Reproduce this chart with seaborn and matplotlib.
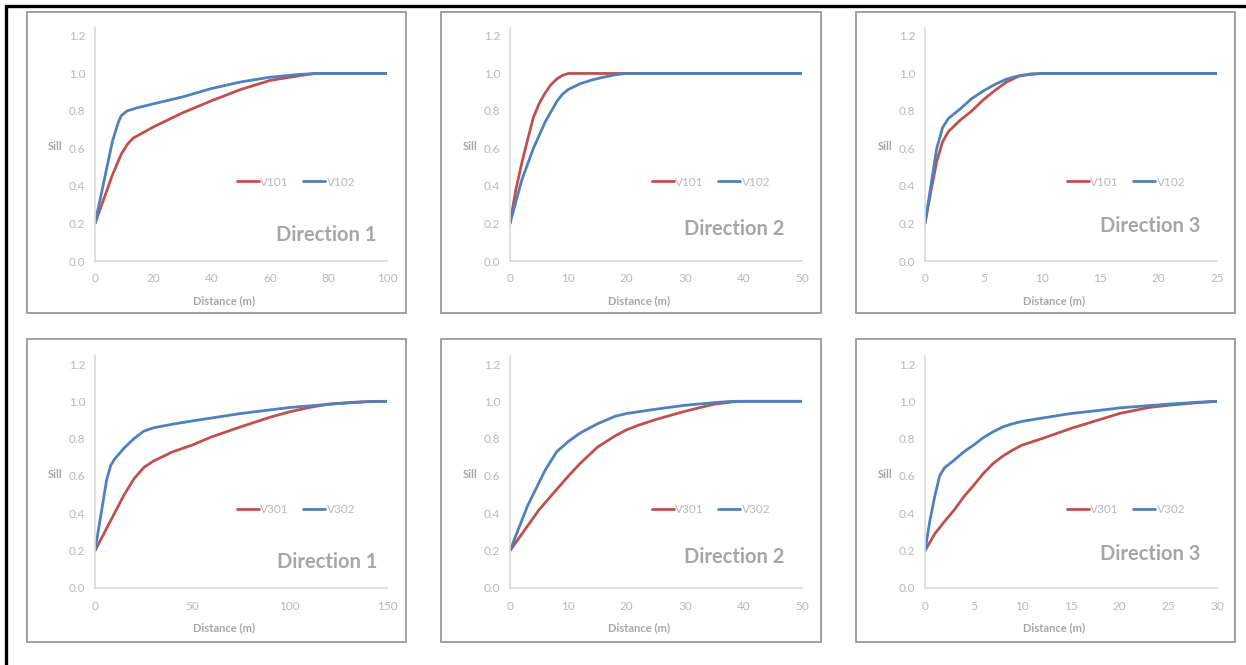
import matplotlib
matplotlib.use("Agg")
import matplotlib.pyplot as plt
import seaborn as sns
import pandas as pd
from matplotlib.patches import Rectangle
from matplotlib.lines import Line2D

# ---------------- data ----------------
# Top row: V101 / V102
d1_x_v101 = [0, 3, 6, 9, 11, 13, 16, 20, 30, 40, 50, 60, 70, 75, 100]
d1_v101 = [0.2, 0.33, 0.46, 0.57, 0.62, 0.655, 0.68, 0.715, 0.79, 0.855, 0.915, 0.963, 0.988, 1.0, 1.0]
d1_x_v102 = [0, 3, 6, 8, 9, 11, 14, 20, 30, 40, 50, 60, 70, 77, 100]
d1_v102 = [0.2, 0.42, 0.64, 0.74, 0.775, 0.80, 0.815, 0.838, 0.875, 0.92, 0.955, 0.98, 0.995, 1.0, 1.0]

d2_x_v101 = [0, 1, 2, 3, 4, 5, 6, 7, 8, 9, 10, 50]
d2_v101 = [0.2, 0.38, 0.52, 0.645, 0.765, 0.84, 0.895, 0.94, 0.97, 0.99, 1.0, 1.0]
d2_x_v102 = [0, 2, 4, 6, 7, 8, 9, 10, 12, 14, 16, 18, 20, 50]
d2_v102 = [0.2, 0.43, 0.6, 0.74, 0.795, 0.85, 0.89, 0.915, 0.945, 0.965, 0.98, 0.993, 1.0, 1.0]

d3_x = [0, 0.5, 1, 1.5, 2, 3, 4, 5, 6, 7, 8, 9, 10, 25]
d3_v101 = [0.2, 0.37, 0.53, 0.635, 0.69, 0.75, 0.80, 0.86, 0.91, 0.955, 0.985, 0.995, 1.0, 1.0]
d3_v102 = [0.2, 0.40, 0.60, 0.71, 0.76, 0.81, 0.866, 0.907, 0.942, 0.97, 0.987, 0.997, 1.0, 1.0]

# Bottom row: V301 / V302
d4_x_v301 = [0, 5, 10, 15, 20, 25, 30, 40, 50, 60, 75, 90, 100, 110, 120, 130, 140, 145, 150]
d4_v301 = [0.2, 0.30, 0.40, 0.50, 0.585, 0.645, 0.68, 0.73, 0.766, 0.81, 0.864, 0.915, 0.944, 0.967, 0.985, 0.993, 0.999, 1.0, 1.0]
d4_x_v302 = [0, 3, 6, 8, 10, 15, 20, 25, 30, 40, 50, 75, 100, 125, 140, 150]
d4_v302 = [0.2, 0.39, 0.58, 0.655, 0.69, 0.75, 0.80, 0.84, 0.858, 0.878, 0.895, 0.935, 0.967, 0.988, 0.998, 1.0]

d5_x_v301 = [0, 5, 10, 12, 15, 18, 20, 22, 25, 30, 35, 38, 40, 50]
d5_v301 = [0.2, 0.42, 0.60, 0.667, 0.755, 0.815, 0.848, 0.872, 0.903, 0.947, 0.985, 0.997, 1.0, 1.0]
d5_x_v302 = [0, 3, 6, 8, 10, 12, 15, 18, 20, 25, 30, 35, 38, 50]
d5_v302 = [0.2, 0.44, 0.63, 0.73, 0.785, 0.83, 0.88, 0.92, 0.935, 0.958, 0.979, 0.993, 1.0, 1.0]

d6_x_v301 = [0, 1, 2, 3, 4, 5, 6, 7, 8, 9, 10, 12, 15, 18, 20, 23, 25, 28, 30]
d6_v301 = [0.2, 0.29, 0.356, 0.418, 0.49, 0.55, 0.614, 0.667, 0.707, 0.739, 0.766, 0.80, 0.855, 0.903, 0.935, 0.967, 0.979, 0.993, 1.0]
d6_x_v302 = [0, 0.5, 1, 1.5, 2, 3, 4, 5, 6, 7, 8, 9, 10, 12, 15, 18, 20, 25, 28, 30]
d6_v302 = [0.2, 0.36, 0.49, 0.60, 0.644, 0.685, 0.73, 0.766, 0.806, 0.837, 0.863, 0.88, 0.893, 0.91, 0.935, 0.952, 0.965, 0.985, 0.995, 1.0]

titles = ["Direction 1", "Direction 2", "Direction 3"]
x_limits = [100, 50, 25, 150, 50, 30]
x_steps = [20, 10, 5, 50, 10, 5]
y_ticks = [0.0, 0.2, 0.4, 0.6, 0.8, 1.0, 1.2]

panels = [
    [("V101", d1_x_v101, d1_v101), ("V102", d1_x_v102, d1_v102)],
    [("V101", d2_x_v101, d2_v101), ("V102", d2_x_v102, d2_v102)],
    [("V101", d3_x, d3_v101), ("V102", d3_x, d3_v102)],
    [("V301", d4_x_v301, d4_v301), ("V302", d4_x_v302, d4_v302)],
    [("V301", d5_x_v301, d5_v301), ("V302", d5_x_v302, d5_v302)],
    [("V301", d6_x_v301, d6_v301), ("V302", d6_x_v302, d6_v302)],
]

# ---------------- style ----------------
sns.set_style("white")
plt.rcParams['font.family'] = ['Lato', 'DejaVu Sans']

RED = "#c0504d"
BLUE = "#4f81bd"
TICK_C = "#b8b8b8"
LABEL_C = "#a6a6a6"
SPINE_C = "#d9d9d9"

W, H = 1246, 665
fig = plt.figure(figsize=(W / 100, H / 100), dpi=100)
fig.patch.set_facecolor("white")

def fx(px):
    return px / W

def fy(py):
    return (H - py) / H

# axes positions (pixel coords)
ax_lefts = [95, 510, 925]
ax_width = 292
rows = [(261, 27.5), (588, 355.6)]  # (y of 0.0, y of top)

dir_pos = [(0.962, 0.111), (0.938, 0.137), (0.945, 0.15),
           (0.966, 0.112), (0.938, 0.133), (0.945, 0.146)]

# panel frames
box_x = [(27, 406), (441, 821), (856, 1235)]
box_y = [(12, 313), (339, 642)]
for (y0, y1) in box_y:
    for (x0, x1) in box_x:
        fig.patches.append(Rectangle((fx(x0), fy(y1)), fx(x1 - x0), (y1 - y0) / H,
                                     transform=fig.transFigure, fill=False,
                                     edgecolor="#a0a0a0", linewidth=1.4, zorder=0))

# outer black lines (top and left)
fig.add_artist(Line2D([fx(5.5), 1.0], [fy(6), fy(6)], transform=fig.transFigure,
                      color="black", linewidth=2.4))
fig.add_artist(Line2D([fx(5.5), fx(5.5)], [fy(6), 0.0], transform=fig.transFigure,
                      color="black", linewidth=2.4))

for i, series in enumerate(panels):
    r, c = divmod(i, 3)
    y0px, ytop = rows[r]
    ax = fig.add_axes([fx(ax_lefts[c]), fy(y0px), fx(ax_width), (y0px - ytop) / H])
    rows_df = []
    for name, xs, ys in series:
        for xv, yv in zip(xs, ys):
            rows_df.append({"Distance": xv, "Sill": yv, "Var": name})
    df = pd.DataFrame(rows_df)
    names = [s[0] for s in series]
    sns.lineplot(data=df, x="Distance", y="Sill", hue="Var", hue_order=names,
                 palette={names[0]: RED, names[1]: BLUE}, linewidth=2.0,
                 ax=ax, legend=True, estimator=None, sort=False)
    ax.set_xlim(0, x_limits[i])
    ax.set_ylim(0, 1.245)
    ax.set_xticks(list(range(0, x_limits[i] + 1, x_steps[i])))
    ax.set_yticks(y_ticks)
    ax.set_yticklabels([f"{v:.1f}" for v in y_ticks])
    ax.set_xlabel("")
    ax.set_ylabel("")
    for s in ["top", "right"]:
        ax.spines[s].set_visible(False)
    for s in ["left", "bottom"]:
        ax.spines[s].set_color(SPINE_C)
        ax.spines[s].set_linewidth(1.2)
    ax.tick_params(axis="both", colors=SPINE_C, labelcolor=TICK_C, labelsize=8.5,
                   length=4, width=1, direction="out")
    ax.tick_params(axis="x", pad=5)
    ax.tick_params(axis="y", pad=3)
    ax.text(-0.137, 0.49, "Sill", transform=ax.transAxes, ha="center", va="center",
            fontsize=8, fontweight="bold", color=LABEL_C)
    ax.text(0.443, -0.172, "Distance (m)", transform=ax.transAxes, ha="center",
            va="center", fontsize=8, fontweight="bold", color=LABEL_C)
    dx, dy = dir_pos[i]
    ax.text(dx, dy, titles[c], transform=ax.transAxes, ha="right", va="center",
            fontsize=14.5, fontweight="bold", color=LABEL_C)
    leg = ax.legend(loc="center", bbox_to_anchor=(0.688, 0.338), ncol=2, frameon=False,
                    fontsize=8.5, handlelength=1.9, handletextpad=0.1,
                    columnspacing=1.2, borderaxespad=0)
    for t in leg.get_texts():
        t.set_color(TICK_C)
    for l in leg.get_lines():
        l.set_linewidth(2.0)

fig.savefig("out.png", dpi=100, facecolor="white")
